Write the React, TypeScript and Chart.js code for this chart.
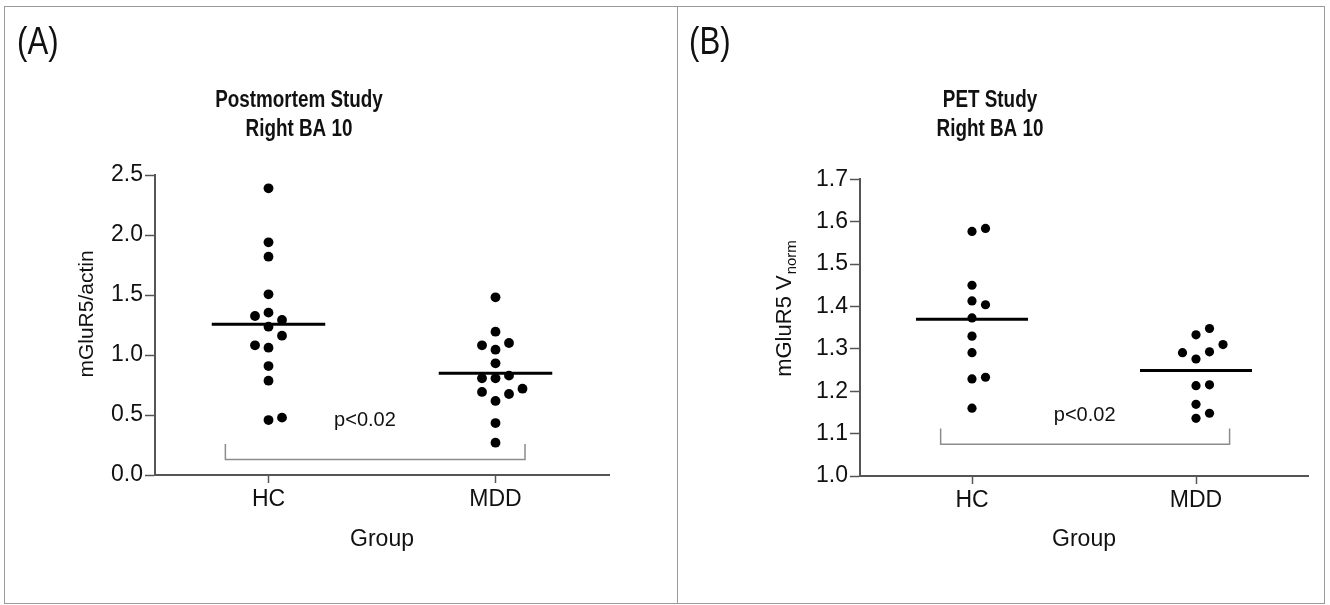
import React, { useEffect, useRef } from 'react';
import { Chart, registerables } from 'chart.js';

Chart.register(...registerables);

// ---------------- data ----------------
const GROUPS = ['HC', 'MDD'];
const P_LABEL = 'p<0.02';

// Panel A: Postmortem study, mGluR5/actin
const A_HC = [2.389, 1.939, 1.819, 1.506, 1.353, 1.292, 1.325, 1.236, 1.061, 1.161, 1.081, 0.908, 0.786, 0.458, 0.478];
const A_MDD = [1.481, 1.194, 1.044, 1.1, 1.081, 0.931, 0.806, 0.828, 0.806, 0.617, 0.675, 0.692, 0.719, 0.433, 0.269];
const A_MEDIANS = [1.256, 0.847];
const A_Y_TICKS = [0, 0.5, 1.0, 1.5, 2.0, 2.5];

// Panel B: PET study, mGluR5 Vnorm
const B_HC = [1.577, 1.584, 1.45, 1.413, 1.404, 1.373, 1.33, 1.291, 1.229, 1.233, 1.16];
const B_MDD = [1.333, 1.348, 1.276, 1.293, 1.291, 1.31, 1.213, 1.215, 1.136, 1.169, 1.148];
const B_MEDIANS = [1.37, 1.249];
const B_Y_TICKS = [1.0, 1.1, 1.2, 1.3, 1.4, 1.5, 1.6, 1.7];

// significance brackets (data units)
const A_BRACKET = { left: -0.19, right: 1.13, top: 0.258, bottom: 0.13 };
const B_BRACKET = { left: -0.14, right: 1.15, top: 1.112, bottom: 1.075 };
const A_P_POS = { x: 0.425, y: 0.41 };
const B_P_POS = { x: 0.503, y: 1.13 };

// ---------------- styling ----------------
const FONT = '"Liberation Sans", Arial, Helvetica, sans-serif';
const NARROW_SCALE = 0.82;
const AXIS_COLOR = '#555';
const TEXT_COLOR = '#111';
const SLOT_PX = 13.5;
const MIN_DIST_PX = 11;
const MEDIAN_HALF = 0.25;

function swarmSlots(values: number[], yPxPerUnit: number): number[] {
  const order = [0, 1, -1, 2, -2, 3, -3];
  const placed: { s: number; y: number }[] = [];
  return values.map((v) => {
    const y = v * yPxPerUnit;
    for (const s of order) {
      const ok = placed.every((p) => Math.hypot((p.s - s) * SLOT_PX, p.y - y) >= MIN_DIST_PX);
      if (ok) {
        placed.push({ s, y });
        return s;
      }
    }
    return 0;
  });
}

type PanelCfg = {
  letter: string;
  title: [string, string];
  yTitle: string;
  ySub?: string;
  yTitleSize: number;
  groups: number[][];
  medians: number[];
  yTicks: number[];
  canvas: { left: number; top: number; width: number; height: number };
  area: { left: number; right: number; top: number; bottom: number };
  titleX: number;
  letterX: number;
  yTitlePos: { x: number; y: number };
  pointRadius: number;
  bracket: { left: number; right: number; top: number; bottom: number };
  pPos: { x: number; y: number };
};

const PANEL_A: PanelCfg = {
  letter: '(A)',
  title: ['Postmortem Study', 'Right BA 10'],
  yTitle: 'mGluR5/actin',
  yTitleSize: 21,
  groups: [A_HC, A_MDD],
  medians: A_MEDIANS,
  yTicks: A_Y_TICKS,
  canvas: { left: 6, top: 8, width: 670, height: 594 },
  area: { left: 149, right: 603, top: 167, bottom: 467 },
  titleX: 293,
  letterX: 11,
  yTitlePos: { x: 87, y: 306 },
  pointRadius: 4.9,
  bracket: A_BRACKET,
  pPos: A_P_POS,
};

const PANEL_B: PanelCfg = {
  letter: '(B)',
  title: ['PET Study', 'Right BA 10'],
  yTitle: 'mGluR5 V',
  ySub: 'norm',
  yTitleSize: 22,
  groups: [B_HC, B_MDD],
  medians: B_MEDIANS,
  yTicks: B_Y_TICKS,
  canvas: { left: 679, top: 8, width: 644, height: 594 },
  area: { left: 181, right: 629, top: 171.3, bottom: 468 },
  titleX: 311,
  letterX: 10,
  yTitlePos: { x: 112, y: 301 },
  pointRadius: 4.6,
  bracket: B_BRACKET,
  pPos: B_P_POS,
};

function narrowText(ctx: CanvasRenderingContext2D, text: string, x: number, y: number, align: 'left' | 'center') {
  ctx.save();
  ctx.translate(x, y);
  ctx.scale(NARROW_SCALE, 1);
  ctx.textAlign = align;
  ctx.fillText(text, 0, 0);
  ctx.restore();
}

function Panel({ cfg }: { cfg: PanelCfg }) {
  const ref = useRef<HTMLCanvasElement | null>(null);

  useEffect(() => {
    const canvas = ref.current;
    if (!canvas) return;
    const { width, height } = cfg.canvas;
    const yMin = cfg.yTicks[0];
    const yMax = cfg.yTicks[cfg.yTicks.length - 1];

    const annot = {
      id: 'annot',
      afterDraw(chart: any) {
        const { ctx, chartArea, scales } = chart;
        const xs = scales.x;
        const ys = scales.y;
        ctx.save();
        ctx.fillStyle = TEXT_COLOR;
        ctx.textBaseline = 'alphabetic';

        // panel letter (narrow face)
        ctx.font = `38px ${FONT}`;
        narrowText(ctx, cfg.letter, cfg.letterX, 46, 'left');

        // title (narrow bold face)
        ctx.font = `bold 23px ${FONT}`;
        narrowText(ctx, cfg.title[0], cfg.titleX, 99, 'center');
        narrowText(ctx, cfg.title[1], cfg.titleX, 128, 'center');

        // x title
        ctx.font = `23px ${FONT}`;
        ctx.textAlign = 'center';
        ctx.fillText('Group', (chartArea.left + chartArea.right) / 2, 538);

        // y title (rotated)
        ctx.save();
        ctx.translate(cfg.yTitlePos.x, cfg.yTitlePos.y);
        ctx.rotate(-Math.PI / 2);
        ctx.textAlign = 'left';
        ctx.font = `${cfg.yTitleSize}px ${FONT}`;
        const mw = ctx.measureText(cfg.yTitle).width;
        let sw = 0;
        const subFont = `${Math.round(cfg.yTitleSize * 0.7)}px ${FONT}`;
        if (cfg.ySub) {
          ctx.font = subFont;
          sw = ctx.measureText(cfg.ySub).width;
        }
        const start = -(mw + sw) / 2;
        ctx.font = `${cfg.yTitleSize}px ${FONT}`;
        ctx.fillText(cfg.yTitle, start, 0);
        if (cfg.ySub) {
          ctx.font = subFont;
          ctx.fillText(cfg.ySub, start + mw + 1, 5);
        }
        ctx.restore();

        // bracket
        const b = cfg.bracket;
        const xl = xs.getPixelForValue(b.left);
        const xr = xs.getPixelForValue(b.right);
        const yt = ys.getPixelForValue(b.top);
        const yb = ys.getPixelForValue(b.bottom);
        ctx.strokeStyle = '#8c8c8c';
        ctx.lineWidth = 1.5;
        ctx.beginPath();
        ctx.moveTo(xl, yt);
        ctx.lineTo(xl, yb);
        ctx.lineTo(xr, yb);
        ctx.lineTo(xr, yt);
        ctx.stroke();

        // p label
        ctx.font = `20px ${FONT}`;
        ctx.textAlign = 'center';
        ctx.fillText(P_LABEL, xs.getPixelForValue(cfg.pPos.x), ys.getPixelForValue(cfg.pPos.y));
        ctx.restore();
      },
    };

    const tickFont = { family: FONT, size: 23 };

    const chart = new Chart(canvas, {
      type: 'scatter',
      data: {
        datasets: [
          ...cfg.groups.map((vals, gi) => ({
            type: 'scatter' as const,
            data: vals.map((v) => ({ x: gi, y: v })),
            pointRadius: cfg.pointRadius,
            pointHoverRadius: cfg.pointRadius,
            backgroundColor: '#000',
            borderColor: '#000',
            borderWidth: 0,
          })),
          ...cfg.medians.map((m, gi) => ({
            type: 'line' as const,
            data: [
              { x: gi - MEDIAN_HALF, y: m },
              { x: gi + MEDIAN_HALF, y: m },
            ],
            borderColor: '#000',
            borderWidth: 3,
            pointRadius: 0,
            showLine: true,
            fill: false,
          })),
        ],
      } as any,
      options: {
        animation: false,
        responsive: false,
        maintainAspectRatio: false,
        events: [],
        layout: {
          padding: { left: 0, top: cfg.area.top, right: width - cfg.area.right, bottom: 0 },
        },
        plugins: {
          legend: { display: false },
          tooltip: { enabled: false },
          title: { display: false },
        },
        scales: {
          x: {
            type: 'linear',
            min: -0.5,
            max: 1.5,
            afterBuildTicks: (s: any) => {
              s.ticks = GROUPS.map((_, i) => ({ value: i }));
            },
            afterFit: (s: any) => {
              s.height = height - cfg.area.bottom;
            },
            ticks: {
              callback: (v: any) => GROUPS[Math.round(Number(v))] ?? '',
              font: tickFont,
              color: TEXT_COLOR,
              padding: 3,
              autoSkip: false,
              maxRotation: 0,
            },
            grid: {
              display: true,
              drawOnChartArea: false,
              drawTicks: true,
              tickLength: 8,
              tickColor: AXIS_COLOR,
              tickWidth: 1.5,
            },
            border: { display: true, color: AXIS_COLOR, width: 2 },
          },
          y: {
            type: 'linear',
            min: yMin,
            max: yMax,
            afterBuildTicks: (s: any) => {
              s.ticks = cfg.yTicks.map((v) => ({ value: v }));
            },
            afterFit: (s: any) => {
              s.width = cfg.area.left;
            },
            ticks: {
              callback: (v: any) => Number(v).toFixed(1),
              font: tickFont,
              color: TEXT_COLOR,
              padding: 2,
              autoSkip: false,
            },
            grid: {
              display: true,
              drawOnChartArea: false,
              drawTicks: true,
              tickLength: 10,
              tickColor: AXIS_COLOR,
              tickWidth: 1.5,
            },
            border: { display: true, color: AXIS_COLOR, width: 2 },
          },
        },
      } as any,
      plugins: [annot],
    });

    // beeswarm layout of the dots, using the chart's own scales
    const xs: any = chart.scales.x;
    const ys: any = chart.scales.y;
    const xPx = Math.abs(xs.getPixelForValue(1) - xs.getPixelForValue(0));
    const yPx = Math.abs(ys.getPixelForValue(1) - ys.getPixelForValue(0));
    cfg.groups.forEach((vals, gi) => {
      const slots = swarmSlots(vals, yPx);
      (chart.data.datasets[gi] as any).data = vals.map((v, i) => ({ x: gi + (slots[i] * SLOT_PX) / xPx, y: v }));
    });
    chart.update();

    return () => chart.destroy();
  }, [cfg]);

  const c = cfg.canvas;
  return (
    <canvas
      ref={ref}
      width={c.width}
      height={c.height}
      style={{ position: 'absolute', left: c.left, top: c.top, width: c.width, height: c.height }}
    />
  );
}

export default function App() {
  return (
    <div style={{ position: 'fixed', left: 0, top: 0, width: 1330, height: 605, background: '#fff', overflow: 'hidden' }}>
      <div
        style={{
          position: 'absolute',
          left: 4,
          top: 6,
          width: 1321,
          height: 598,
          border: '1.5px solid #9a9a9a',
          boxSizing: 'border-box',
        }}
      />
      <div style={{ position: 'absolute', left: 676.5, top: 6, width: 1.5, height: 598, background: '#9a9a9a' }} />
      <Panel cfg={PANEL_A} />
      <Panel cfg={PANEL_B} />
    </div>
  );
}
